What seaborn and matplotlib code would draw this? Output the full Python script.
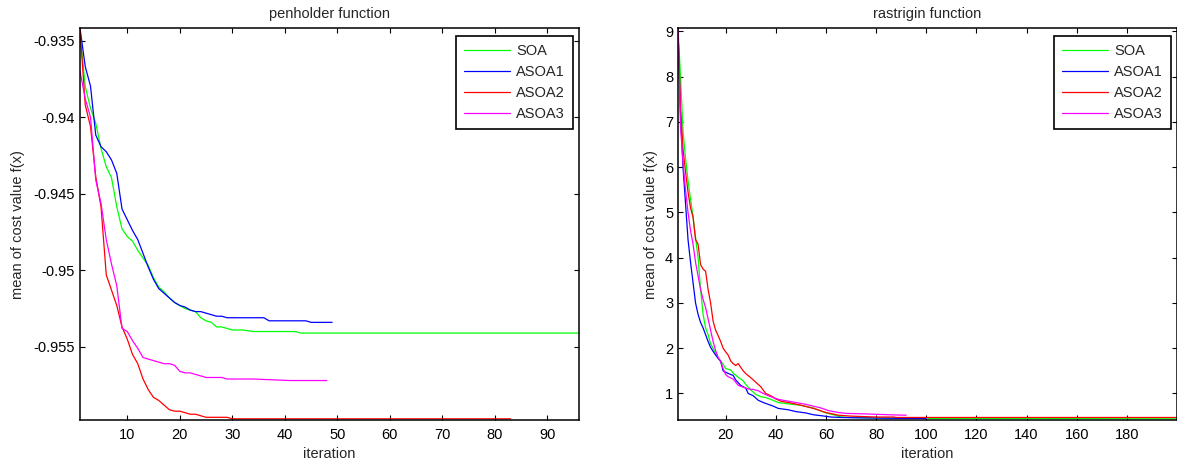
import numpy as np
import pandas as pd
import matplotlib
matplotlib.use("Agg")
import matplotlib.pyplot as plt
from matplotlib.ticker import FuncFormatter
import seaborn as sns

# ---------------- data ----------------
series_names = ["SOA", "ASOA1", "ASOA2", "ASOA3"]
series_colors = ["#00ff00", "#0000ff", "#ff0000", "#ff00ff"]

# penholder function
pen_soa_x = [1, 2, 3, 4, 5, 6, 7, 8, 9, 10, 11, 12, 13, 14, 15, 16, 17, 18, 19, 20, 21, 22, 23, 24, 25, 26, 27, 28, 29, 30, 32, 34, 36, 42, 43, 96]
pen_soa_y = [-0.9345, -0.9380, -0.93942, -0.9404, -0.94204, -0.94324, -0.94396, -0.94585, -0.9473, -0.9478, -0.9481, -0.9487, -0.9492, -0.9497, -0.9505, -0.9511, -0.9514, -0.9518, -0.9521, -0.9523, -0.9525, -0.9526, -0.9527, -0.9531, -0.9533, -0.9534, -0.9537, -0.9537, -0.9538, -0.9539, -0.9539, -0.9540, -0.9540, -0.9540, -0.9541, -0.9541]

pen_asoa1_x = [1, 2, 3, 4, 5, 6, 7, 8, 9, 10, 11, 12, 13, 14, 15, 16, 17, 18, 19, 20, 21, 22, 23, 24, 25, 26, 27, 28, 29, 30, 32, 34, 36, 37, 44, 45, 49]
pen_asoa1_y = [-0.9342, -0.9367, -0.93798, -0.94117, -0.94193, -0.94226, -0.9428, -0.94367, -0.9460, -0.9467, -0.9474, -0.9480, -0.9489, -0.9498, -0.9506, -0.9512, -0.9515, -0.9518, -0.9521, -0.9523, -0.9524, -0.9526, -0.9527, -0.9527, -0.9528, -0.9529, -0.9530, -0.9530, -0.9531, -0.9531, -0.9531, -0.9531, -0.9531, -0.9533, -0.9533, -0.9534, -0.9534]

pen_asoa2_x = [1, 2, 3, 4, 5, 6, 7, 8, 9, 10, 11, 12, 13, 14, 15, 16, 17, 18, 19, 20, 21, 22, 23, 24, 25, 29, 30, 36, 83]
pen_asoa2_y = [-0.9343, -0.9392, -0.94062, -0.94389, -0.94585, -0.9503, -0.9513, -0.9523, -0.9537, -0.9545, -0.9555, -0.9561, -0.9571, -0.9578, -0.9583, -0.9585, -0.9588, -0.9591, -0.9592, -0.9592, -0.9593, -0.9594, -0.9594, -0.9595, -0.9596, -0.9596, -0.9597, -0.9597, -0.9597]

pen_asoa3_x = [1, 2, 3, 4, 5, 6, 7, 8, 9, 10, 11, 12, 13, 14, 15, 16, 17, 18, 19, 20, 21, 22, 23, 24, 25, 28, 29, 34, 41, 48]
pen_asoa3_y = [-0.9370, -0.9388, -0.9400, -0.9441, -0.94563, -0.9480, -0.9496, -0.9510, -0.9538, -0.9540, -0.9546, -0.9551, -0.9557, -0.9558, -0.9559, -0.9560, -0.9561, -0.9561, -0.9562, -0.9566, -0.9567, -0.9567, -0.9568, -0.9569, -0.9570, -0.9570, -0.9571, -0.9571, -0.9572, -0.9572]

# rastrigin function
ras_soa_x = [1, 2, 3, 4, 5, 6, 7, 8, 9, 10, 11, 12, 13, 14, 15, 17, 19, 20, 22, 23, 25, 27, 28, 30, 32, 34, 36, 38, 41, 45, 50, 55, 60, 63, 66, 70, 80, 100, 200]
ras_soa_y = [9.07, 8.0, 6.8, 6.2, 5.7, 5.3, 4.9, 4.45, 4.0, 3.3, 2.75, 2.45, 2.3, 2.1, 2.0, 1.77, 1.65, 1.55, 1.52, 1.45, 1.36, 1.28, 1.2, 1.08, 0.98, 0.93, 0.91, 0.87, 0.80, 0.77, 0.74, 0.68, 0.57, 0.53, 0.48, 0.47, 0.46, 0.45, 0.44]

ras_asoa1_x = [1, 2, 3, 4, 5, 6, 7, 8, 9, 10, 11, 12, 13, 14, 15, 16, 17, 18, 19, 20, 22, 23, 24, 26, 28, 29, 31, 33, 35, 37, 39, 41, 45, 48, 52, 55, 58, 62, 66, 75, 90, 100]
ras_asoa1_y = [9.0, 7.2, 6.0, 5.2, 4.4, 3.9, 3.45, 3.0, 2.75, 2.57, 2.45, 2.3, 2.15, 2.02, 1.93, 1.85, 1.78, 1.72, 1.50, 1.47, 1.42, 1.40, 1.3, 1.18, 1.12, 1.0, 0.95, 0.85, 0.80, 0.76, 0.72, 0.67, 0.64, 0.60, 0.57, 0.53, 0.51, 0.48, 0.47, 0.46, 0.45, 0.45]

ras_asoa2_x = [1, 2, 3, 4, 5, 6, 7, 8, 9, 10, 11, 12, 13, 14, 15, 16, 17, 18, 19, 20, 21, 22, 23, 24, 25, 26, 27, 28, 30, 32, 34, 36, 38, 40, 42, 46, 50, 55, 60, 65, 70, 80, 87, 88, 200]
ras_asoa2_y = [9.05, 7.3, 6.4, 5.9, 5.45, 5.1, 4.9, 4.4, 4.3, 3.85, 3.75, 3.7, 3.3, 3.0, 2.6, 2.4, 2.28, 2.15, 2.0, 1.92, 1.85, 1.72, 1.66, 1.62, 1.66, 1.58, 1.5, 1.44, 1.35, 1.25, 1.15, 1.0, 0.95, 0.88, 0.83, 0.79, 0.74, 0.67, 0.58, 0.52, 0.50, 0.48, 0.48, 0.47, 0.47]

ras_asoa3_x = [1, 2, 3, 4, 5, 6, 7, 8, 9, 10, 11, 12, 13, 14, 15, 16, 17, 18, 19, 20, 21, 23, 25, 27, 29, 31, 33, 35, 37, 39, 41, 44, 48, 52, 55, 58, 61, 65, 68, 75, 85, 92]
ras_asoa3_y = [9.07, 6.9, 6.1, 5.5, 5.0, 4.6, 4.3, 3.9, 3.6, 3.3, 3.08, 2.9, 2.65, 2.4, 2.15, 1.95, 1.8, 1.70, 1.55, 1.42, 1.37, 1.32, 1.18, 1.14, 1.10, 1.09, 1.06, 1.0, 0.95, 0.91, 0.87, 0.84, 0.80, 0.76, 0.72, 0.68, 0.62, 0.58, 0.56, 0.55, 0.53, 0.52]

titles = ["penholder function", "rastrigin function"]
x_label = "iteration"
y_label = "mean of cost value f(x)"
pen_xticks = [10, 20, 30, 40, 50, 60, 70, 80, 90]
pen_yticks = [-0.955, -0.95, -0.945, -0.94, -0.935]
ras_xticks = [20, 40, 60, 80, 100, 120, 140, 160, 180]
ras_yticks = [1, 2, 3, 4, 5, 6, 7, 8, 9]
pen_xlim = (1, 96)
ras_xlim = (1, 200)

# ---------------- style ----------------
sns.set_theme(style="white")
plt.rcParams["font.family"] = ["Liberation Sans", "DejaVu Sans"]
plt.rcParams["axes.unicode_minus"] = False

FS = 10.5

fig = plt.figure(figsize=(11.77, 4.63), dpi=100)
W, H = 1177.0, 463.0
ax_w = 499.0
ax_top, ax_bot = 28.3, 420.0
ax1 = fig.add_axes([80 / W, (H - ax_bot) / H, ax_w / W, (ax_bot - ax_top) / H])
ax2 = fig.add_axes([678 / W, (H - ax_bot) / H, ax_w / W, (ax_bot - ax_top) / H])


def make_df(xs, ys):
    frames = []
    for name, x, y in zip(series_names, xs, ys):
        frames.append(pd.DataFrame({"iteration": x, "value": y, "algorithm": name}))
    return pd.concat(frames, ignore_index=True)


pen_df = make_df([pen_soa_x, pen_asoa1_x, pen_asoa2_x, pen_asoa3_x],
                 [pen_soa_y, pen_asoa1_y, pen_asoa2_y, pen_asoa3_y])
ras_df = make_df([ras_soa_x, ras_asoa1_x, ras_asoa2_x, ras_asoa3_x],
                 [ras_soa_y, ras_asoa1_y, ras_asoa2_y, ras_asoa3_y])

palette = dict(zip(series_names, series_colors))

for ax, df, title, xticks, yticks, xlim, ylpad in [
    (ax1, pen_df, titles[0], pen_xticks, pen_yticks, pen_xlim, 6.5),
    (ax2, ras_df, titles[1], ras_xticks, ras_yticks, ras_xlim, 5),
]:
    sns.lineplot(data=df, x="iteration", y="value", hue="algorithm",
                 hue_order=series_names, palette=palette, estimator=None,
                 sort=False, linewidth=0.9, ax=ax, legend=False)
    ymin, ymax = df["value"].min(), df["value"].max()
    span = ymax - ymin
    ax.set_xlim(*xlim)
    ax.set_ylim(ymin - span * 0.003, ymax)
    ax.set_xticks(xticks)
    ax.set_yticks(yticks)
    ax.yaxis.set_major_formatter(FuncFormatter(lambda v, p: "%g" % round(v, 6)))
    ax.set_title(title, fontsize=FS, pad=7.5)
    ax.set_xlabel(x_label, fontsize=FS, labelpad=3.5)
    ax.set_ylabel(y_label, fontsize=FS, labelpad=ylpad)
    ax.tick_params(axis="both", which="major", direction="in", length=3.8,
                   width=0.8, labelsize=FS, top=True, right=True,
                   bottom=True, left=True, pad=3.5, colors="black")
    ax.tick_params(axis="x", pad=5.5)
    for s in ax.spines.values():
        s.set_visible(True)
        s.set_color("black")
        s.set_linewidth(1.1)
    handles = ax.get_lines()[:4]
    leg = ax.legend(handles, series_names, loc="upper right",
                    bbox_to_anchor=(0.988, 0.980), borderaxespad=0,
                    fontsize=FS, frameon=True, fancybox=False, framealpha=1,
                    edgecolor="black", handlelength=3.1, handletextpad=0.45,
                    labelspacing=0.48, borderpad=0.55)
    leg.get_frame().set_linewidth(1.2)

fig.savefig("out.png", dpi=100)
